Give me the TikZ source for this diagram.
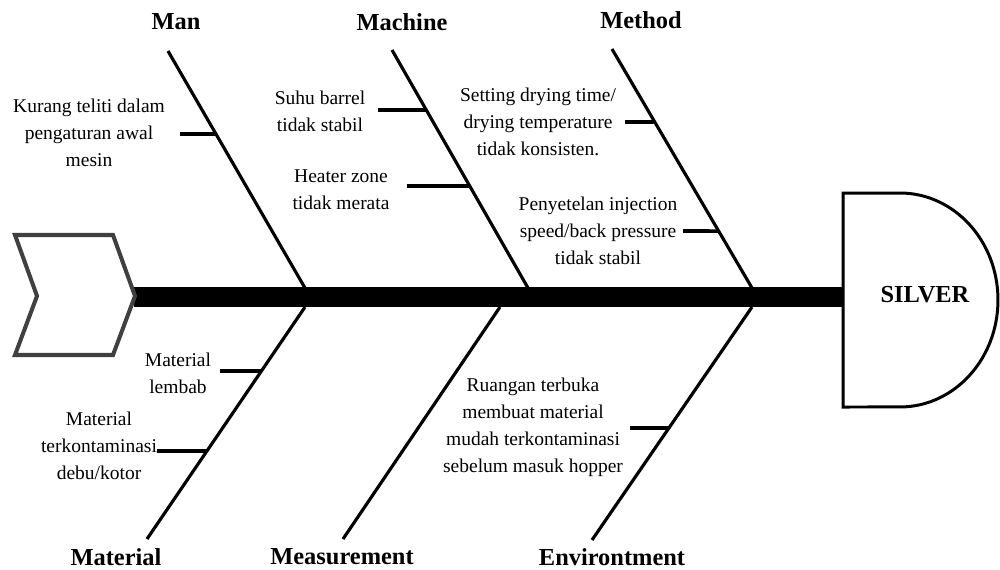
\documentclass[tikz,border=0pt]{standalone}
\usepackage{fontspec}
\setmainfont{Liberation Serif}
\usetikzlibrary{calc}
\definecolor{Ink}{HTML}{000000}
\definecolor{Shade}{HTML}{404040}
\tikzset{
  bone/.style={line width=1.8pt,draw=Ink},
  rib/.style={line width=2.1pt,draw=Ink},
  spine/.style={line width=0.4cm,draw=Ink},
  chevron/.style={line width=2.3pt,draw=Shade,fill=white},
  effect/.style={line width=1.7pt,draw=Ink,fill=white},
  cause/.style={
    align=center,inner sep=0pt,text=Ink,
    font=\fontsize{11.1pt}{15.3pt}\selectfont
  },
  category/.style={
    inner sep=0pt,text=Ink,
    font=\fontsize{13.9pt}{16pt}\selectfont\bfseries
  }
}

\begin{document}
\begin{tikzpicture}[x=0.02cm,y=-0.02cm]
      \useasboundingbox (0,0) rectangle (1000,569);

      % bone ends
      \coordinate (manT) at (168,51);
      \coordinate (manS) at (305,288);
      \coordinate (machT) at (392,50);
      \coordinate (machS) at (528,288);
      \coordinate (methT) at (612,49);
      \coordinate (methS) at (752,288);
      \coordinate (matS) at (305,307);
      \coordinate (matB) at (147,539);
      \coordinate (measS) at (500,307);
      \coordinate (measB) at (343,539);
      \coordinate (envS) at (752,307);
      \coordinate (envB) at (592,540);

      \draw[bone] (manT) -- (manS);
      \draw[bone] (machT) -- (machS);
      \draw[bone] (methT) -- (methS);
      \draw[bone] (matS) -- (matB);
      \draw[bone] (measS) -- (measB);
      \draw[bone] (envS) -- (envB);

      % spine, tail and head
      \coordinate (tail) at (134,297);
      \coordinate (headL) at (843,297);
      \draw[spine] (tail) -- (headL);
      \draw[chevron] (15,235) -- (113,235) -- (135,296) -- (113,355)
        -- (15,355) -- (37,296) -- cycle;
      \draw[effect] (843,193) -- (900,193)
        arc[start angle=90,end angle=-90,x radius=1.96cm,y radius=2.14cm]
        -- (843,407) -- cycle;
      \node[category] (silver) at (925,295) {SILVER};

      % categories
      \node[category] (man) at (176,22) {Man};
      \node[category] (machine) at (402,22) {Machine};
      \node[category] (method) at (641,20) {Method};
      \node[category] (material) at (116,557) {Material};
      \node[category] (measurement) at (342,557) {Measurement};
      \node[category] (environment) at (612,557) {Environtment};

      % causes
      \node[cause] (kurang) at (89,133) {
        Kurang teliti dalam\\pengaturan awal\\mesin
      };
      \coordinate (kurangA) at (180,134);
      \coordinate (kurangB) at ($(manT)!0.350!(manS)$);
      \draw[rib] (kurangA) -- (kurangB);

      \node[cause] (suhu) at (320,111) {
        Suhu barrel\\tidak stabil
      };
      \coordinate (suhuA) at (378,110);
      \coordinate (suhuB) at ($(machT)!0.252!(machS)$);
      \draw[rib] (suhuA) -- (suhuB);

      \node[cause] (heater) at (341,190) {
        Heater zone\\tidak merata
      };
      \coordinate (heaterA) at (407,186);
      \coordinate (heaterB) at ($(machT)!0.571!(machS)$);
      \draw[rib] (heaterA) -- (heaterB);

      \node[cause] (setting) at (538,122) {
        Setting drying time/\\drying temperature\\tidak konsisten.
      };
      \coordinate (settingA) at (625,122);
      \coordinate (settingB) at ($(methT)!0.305!(methS)$);
      \draw[rib] (settingA) -- (settingB);

      \node[cause] (penyetelan) at (598,231) {
        Penyetelan injection\\speed/back pressure\\tidak stabil
      };
      \coordinate (penyetelanA) at (683,231);
      \coordinate (penyetelanB) at ($(methT)!0.762!(methS)$);
      \draw[rib] (penyetelanA) -- (penyetelanB);

      \node[cause] (lembab) at (178,373) {
        Material\\lembab
      };
      \coordinate (lembabA) at (220,371);
      \coordinate (lembabB) at ($(matS)!0.276!(matB)$);
      \draw[rib] (lembabA) -- (lembabB);

      \node[cause] (kotor) at (99,446) {
        Material\\terkontaminasi\\debu/kotor
      };
      \coordinate (kotorA) at (157,451);
      \coordinate (kotorB) at ($(matS)!0.621!(matB)$);
      \draw[rib] (kotorA) -- (kotorB);

      \node[cause] (ruangan) at (533,427) {
        Ruangan terbuka\\membuat material\\mudah terkontaminasi\\sebelum masuk hopper
      };
      \coordinate (ruanganA) at (630,428);
      \coordinate (ruanganB) at ($(envS)!0.519!(envB)$);
      \draw[rib] (ruanganA) -- (ruanganB);
    \end{tikzpicture}
\end{document}
